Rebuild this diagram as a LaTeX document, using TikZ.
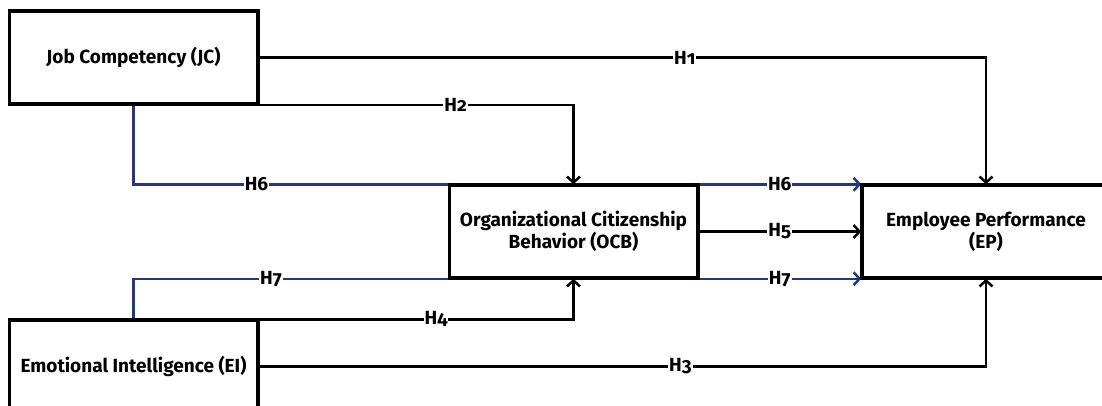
\documentclass[tikz,border=0pt]{standalone}
\usepackage{fontspec}
\setmainfont{Fira Sans}[Numbers=OldStyle]
\usetikzlibrary{arrows.meta}
\definecolor{pathblue}{HTML}{1F3B7C}
\tikzset{
  construct/.style={draw=black, line width=2.5pt, fill=white, minimum width=247pt,
    minimum height=92pt, inner sep=2pt, align=center, font=\bfseries\fontsize{19}{22}\selectfont},
  link/.style={draw=black, line width=2.5pt},
  medlink/.style={draw=pathblue, line width=2.5pt},
  tip/.style={-{Straight Barb[length=6pt,width=13pt,line width=2.5pt]}},
  hyp/.style={fill=white, inner sep=1pt, text=black, font=\bfseries\fontsize{19}{22}\selectfont}
}
\begin{document}
\begin{tikzpicture}[x=1pt,y=-1pt]
  \useasboundingbox (0,0) rectangle (1102,405);
  \begin{scope}
    \clip (0,0) rectangle (1102,405);
    % constructs
    \node[construct] (jc)  at (133.5,57.5)  {Job Competency (JC)};
    \node[construct] (ocb) at (573.5,231.5) {Organizational Citizenship\\Behavior (OCB)};
    \node[construct] (ep)  at (986,231.5)   {Employee Performance\\(EP)};
    \node[construct] (ei)  at (133.5,366.5) {Emotional Intelligence (EI)};

    % mediated paths through OCB
    \draw[medlink] (jc.south) |- node[hyp, pos=0.695] {H6} (ocb.north west);
    \draw[medlink] (ei.north) |- node[hyp, pos=0.718] {H7} (ocb.south west);
    \draw[medlink, tip] (ocb.north east) -- node[hyp] {H6} (ep.north west);
    \draw[medlink, tip] (ocb.south east) -- node[hyp] {H7} (ep.south west);

    % direct paths
    \draw[link, tip] (jc.east) -| node[hyp, pos=0.293] {H1} (ep.north);
    \draw[link, tip] (jc.south east) -| node[hyp, pos=0.313] {H2} (ocb.north);
    \draw[link, tip] (ocb.east) -- node[hyp] {H5} (ep.west);
    \draw[link, tip] (ei.north east) -| node[hyp, pos=0.282] {H4} (ocb.south);
    \draw[link, tip] (ei.east) -| node[hyp, pos=0.29] {H3} (ep.south);

    % box outlines on top of the connector ends
    \foreach \n in {jc,ocb,ep,ei}
      \draw[line width=2.5pt] (\n.north west) rectangle (\n.south east);
  \end{scope}
\end{tikzpicture}
\end{document}
